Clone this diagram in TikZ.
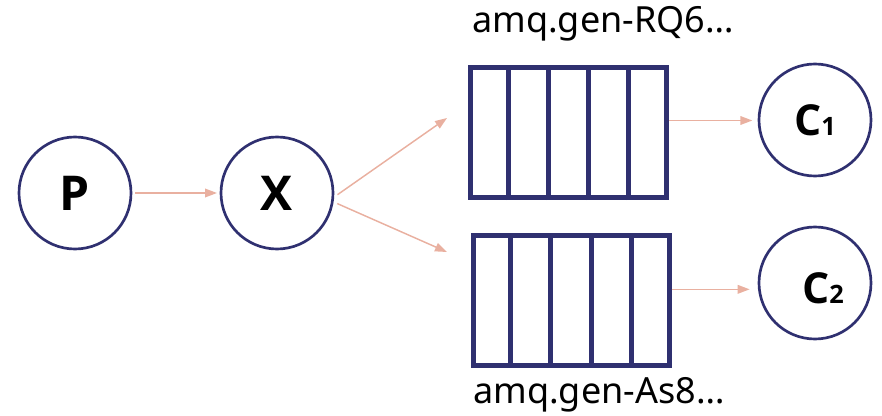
\documentclass[tikz,border=0pt]{standalone}
\usepackage{fontspec}
\setmainfont{Noto Sans}
\newfontfamily\heavy{Open Sans}
\usetikzlibrary{arrows.meta,calc}
\definecolor{navy}{RGB}{47,48,112}
\definecolor{salmon}{RGB}{233,176,160}

\begin{document}
\begin{tikzpicture}[x=0.75pt,y=0.75pt,
    agent/.style={circle, draw=navy, line width=2pt, minimum size=84pt, inner sep=0pt},
    queue/.style={rectangle, draw=navy, line width=3.75pt, minimum width=147pt, minimum height=97.5pt},
    flow/.style={draw=salmon, line width=1.1pt, -{Triangle[length=9pt,width=6.5pt]}},
    qname/.style={anchor=base west, inner sep=0pt, font=\fontsize{27}{31}\selectfont}]
  \useasboundingbox (0,0) rectangle (882,415);

  % producer and exchange
  \node[agent, font=\fontsize{36}{44}\heavy\bfseries] (p) at (75,222) {P};
  \node[agent, font=\fontsize{36}{44}\heavy\bfseries] (x) at (277,222) {X};

  % the two queues
  \node[queue] (q1) at (568.5,282.5) {};
  \node[queue] (q2) at (571,115) {};
  \foreach \q in {q1,q2}
    \foreach \i in {1,...,4}
      \draw[navy, line width=3.75pt] ($(\q.south west)!\i/5!(\q.south east)$) -- ($(\q.north west)!\i/5!(\q.north east)$);
  \node[qname] (n1) at (472,382) {amq.gen-RQ6…};
  \node[qname] (n2) at (473,12) {amq.gen-As8…};

  % consumers
  \node[agent, font=\fontsize{32}{40}\heavy\bfseries] (c1) at (815,295) {C{\fontsize{19}{22}\selectfont 1}};
  \node[agent, label={[font=\fontsize{32}{40}\heavy\bfseries, xshift=6pt, yshift=-4pt]center:C{\fontsize{19}{22}\selectfont 2}}] (c2) at (815,132) {};

  % message flow
  \coordinate (t1) at (447,297);
  \coordinate (t2) at (447,163);
  \draw[flow, shorten <=2pt, shorten >=2pt] (p) -- (x);
  \draw[flow, shorten <=3pt] (x.-4) -- (t1);
  \draw[flow, shorten <=3pt] (x.-9) -- (t2);
  \draw[flow, shorten >=4pt] ([yshift=9pt]q1.east) -- ([yshift=9pt]q1.east -| c1.west);
  \draw[flow, shorten >=6pt] ([yshift=8pt]q2.east) -- ([yshift=8pt]q2.east -| c2.west);
\end{tikzpicture}
\end{document}
